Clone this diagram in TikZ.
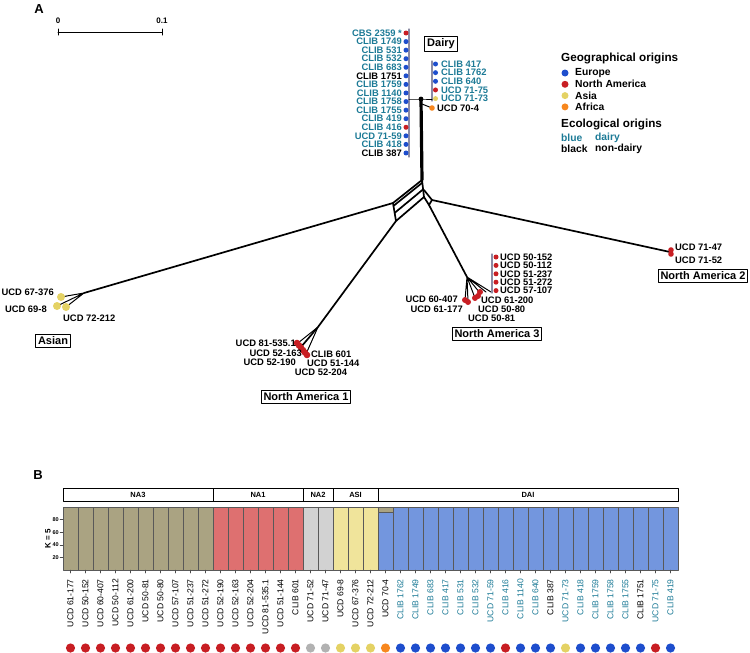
\documentclass[tikz,border=0pt]{standalone}
\usepackage{fontspec}
\setmainfont{Liberation Sans}
\usetikzlibrary{calc,positioning}
\definecolor{dairyteal}{RGB}{28,122,150}
\definecolor{dotblue}{RGB}{30,78,205}
\definecolor{dotred}{RGB}{200,30,35}
\definecolor{dotyellow}{RGB}{228,210,100}
\definecolor{dotorange}{RGB}{247,135,30}
\definecolor{dotgrey}{RGB}{178,178,178}
\definecolor{barkhaki}{RGB}{170,163,130}
\definecolor{barred}{RGB}{222,112,112}
\definecolor{bargrey}{RGB}{210,210,210}
\definecolor{baryellow}{RGB}{240,228,155}
\definecolor{barblue}{RGB}{115,150,222}
\definecolor{listgrey}{RGB}{140,140,165}

\begin{document}
\begin{tikzpicture}[x=1pt,y=-1pt,line cap=round,line join=round,
 strain/.style={font=\fontsize{9.4}{10}\selectfont\bfseries,inner sep=0pt},
 clade/.style={draw,line width=1pt,font=\fontsize{11}{12}\selectfont\bfseries,inner xsep=2.4pt,inner ysep=2.2pt},
 legendhead/.style={font=\fontsize{11.7}{12}\selectfont\bfseries,inner sep=0pt,anchor=west},
 legendtext/.style={font=\fontsize{10.3}{11}\selectfont\bfseries,inner sep=0pt,anchor=west},
 branch/.style={line width=1.7pt},
 twig/.style={line width=1pt},
 listline/.style={listgrey,line width=1.2pt},
 hdr/.style={font=\fontsize{7.5}{8}\selectfont\bfseries,inner sep=0pt},
 sample/.style={font=\fontsize{8.6}{9}\selectfont,inner sep=0pt,rotate=90,anchor=east},
 baredge/.style={black!65,line width=.6pt},
 panel/.style={font=\fontsize{13}{14}\selectfont\bfseries,inner sep=0pt}]
 \useasboundingbox (0,0) rectangle (750,653);

 % ---------- A ----------
 \node[panel] (pA) at (39,9) {A};
 \node[font=\fontsize{8}{9}\selectfont\bfseries,inner sep=0pt] (s0) at (58,21) {0};
 \node[font=\fontsize{8}{9}\selectfont\bfseries,inner sep=0pt] (s1) at (162,21) {0.1};
 \draw[line width=1pt] (58,32) -- (162,32) (58,29) -- (58,35) (162,29) -- (162,35);

 % Dairy: lista po lewej.
 \draw[listline] (409,29) -- (409,157);
 \foreach \lab/\tc/\dc [count=\i from 0] in {CBS 2359 */dairyteal/dotred,CLIB 1749/dairyteal/dotblue,
  CLIB 531/dairyteal/dotblue,CLIB 532/dairyteal/dotblue,CLIB 683/dairyteal/dotblue,CLIB 1751/black/dotblue,
  CLIB 1759/dairyteal/dotblue,CLIB 1140/dairyteal/dotblue,CLIB 1758/dairyteal/dotblue,CLIB 1755/dairyteal/dotblue,
  CLIB 419/dairyteal/dotblue,CLIB 416/dairyteal/dotred,UCD 71-59/dairyteal/dotblue,CLIB 418/dairyteal/dotblue,
  CLIB 387/black/dotblue}{
  \node[strain,anchor=east,text=\tc] (dl\i) at (402,{33+8.57*\i}) {\lab};
  \fill[\dc] (406,{33+8.57*\i}) circle (2.5);
 }
 % Dairy: lista po prawej.
 \draw[listline] (432,61) -- (432,101);
 \foreach \lab/\dc [count=\i from 0] in {CLIB 417/dotblue,CLIB 1762/dotblue,CLIB 640/dotblue,
  UCD 71-75/dotred,UCD 71-73/dotyellow}{
  \node[strain,anchor=west,text=dairyteal] (dr\i) at (441,{64+8.65*\i}) {\lab};
  \fill[\dc] (435.5,{64+8.65*\i}) circle (2.5);
 }
 \node[clade] (dairy) at (441,44) {Dairy};
 \coordinate (dj) at (421,99);
 \coordinate (afr) at (432,108);
 \draw[twig] (409,99) -- (dj) -- (432,99);
 \draw[twig] (422,104) -- (afr);
 \fill (dj) circle (2.4);
 \fill[dotorange] (afr) circle (2.8);
 \node[strain,anchor=west] (ucd704) at (437,108) {UCD 70-4};

 % Sieć: pień i romby.
 \coordinate (nt) at (422,180);
 \coordinate (nr) at (424,197);
 \coordinate (nl) at (393,203);
 \coordinate (nb) at (396,221);
 \coordinate (ne) at (424,190);
 \coordinate (ea) at (432,200);
 \coordinate (eb) at (429,205);
 \draw[line width=3.2pt] (dj) -- (nt);
 \draw[branch] (nt) -- (nl) -- (nb) -- (nr) -- cycle;
 \draw[branch] ($(nt)!.16!(nr)$) -- ($(nl)!.16!(nb)$);
 \draw[branch] ($(nt)!.55!(nr)$) -- ($(nl)!.55!(nb)$);
 \draw[branch] (ne) -- (ea) -- (eb) -- (nr);

 % Asian
 \coordinate (ahub) at (84,293);
 \coordinate (as1) at (61,297);
 \coordinate (as2) at (57,306);
 \coordinate (as3) at (66,307);
 \draw[branch] (nl) -- (ahub);
 \draw[twig] (ahub) -- (as1) (ahub) -- (as2) (ahub) -- (as3);
 \foreach \p in {as1,as2,as3} \fill[dotyellow] (\p) circle (4);
 \node[strain,anchor=east] (a1) at (54,292) {UCD 67-376};
 \node[strain,anchor=east] (a2) at (47,309) {UCD 69-8};
 \node[strain,anchor=west] (a3) at (63,318) {UCD 72-212};
 \node[clade] (asian) at (53,341) {Asian};

 % North America 1
 \coordinate (n1hub) at (318,327);
 \draw[branch] (nb) -- (n1hub) -- (301,347);
 \draw[twig] (n1hub) -- (298,343) (n1hub) -- (306,354);
 \foreach \k in {0,...,5} \fill[dotred] ({297+2*\k},{343+2.4*\k}) circle (3.3);
 \node[strain,anchor=east] (b1) at (296,343) {UCD 81-535.1};
 \node[strain,anchor=east] (b2) at (302,353) {UCD 52-163};
 \node[strain,anchor=east] (b3) at (296,362) {UCD 52-190};
 \node[strain,anchor=west] (b4) at (311,354) {CLIB 601};
 \node[strain,anchor=west] (b5) at (307,363) {UCD 51-144};
 \node[strain] (b6) at (321,372) {UCD 52-204};
 \node[clade] (na1) at (306,397) {North America 1};

 % North America 2
 \coordinate (n2) at (670,252);
 \draw[branch] (ea) -- (n2);
 \fill[dotred] (671,250) circle (2.8) (671,254) circle (2.8);
 \node[strain,anchor=west] (c1) at (675,247) {UCD 71-47};
 \node[strain,anchor=west] (c2) at (675,260) {UCD 71-52};
 \node[clade] (na2) at (703,276) {North America 2};

 % North America 3
 \coordinate (n3hub) at (467,277);
 \draw[branch] (eb) -- (n3hub);
 \draw[twig] (n3hub) -- (465,300) (n3hub) -- (468,302) (n3hub) -- (475,298)
  (n3hub) -- (480,293) (n3hub) -- (486,292) (n3hub) -- (491,292);
 \foreach \q in {(465,300),(468,302),(475,298),(478,296),(480,292)} \fill[dotred] \q circle (3);
 \draw[listline] (492,254) -- (492,293);
 \foreach \lab [count=\i from 0] in {UCD 50-152,UCD 50-112,UCD 51-237,UCD 51-272,UCD 57-107}{
  \node[strain,anchor=west] (d\i) at (500,{257+8.4*\i}) {\lab};
  \fill[dotred] (496,{257+8.4*\i}) circle (2.5);
 }
 \node[strain,anchor=east] (e1) at (458,299.5) {UCD 60-407};
 \node[strain,anchor=east] (e2) at (463,309) {UCD 61-177};
 \node[strain,anchor=west] (e3) at (481,300) {UCD 61-200};
 \node[strain,anchor=west] (e4) at (478,309) {UCD 50-80};
 \node[strain,anchor=west] (e5) at (468,318) {UCD 50-81};
 \node[clade] (na3) at (497,334) {North America 3};

 % Legenda.
 \node[legendhead] (geo) at (561,59) {Geographical origins};
 \foreach \lab/\dc [count=\i from 0] in {Europe/dotblue,North America/dotred,Asia/dotyellow,Africa/dotorange}{
  \fill[\dc] (565,{73+11.3*\i}) circle (3.5);
  \node[legendtext] (g\i) at (575,{73+11.3*\i}) {\lab};
 }
 \node[legendhead] (eco) at (561,124) {Ecological origins};
 \node[legendtext,text=dairyteal] (k1) at (561,138) {blue};
 \node[legendtext,text=dairyteal] (k2) at (595,138) {dairy};
 \node[legendtext] (k3) at (561,149) {black};
 \node[legendtext] (k4) at (595,149) {non-dairy};

 % ---------- B ----------
 \node[panel] (pB) at (38,475) {B};
 \foreach \nm/\xa/\xb in {NA3/63/213,NA1/213/303,NA2/303/333,ASI/333/378,DAI/378/678}{
  \draw[line width=1pt] (\xa,488) rectangle (\xb,501);
  \node[hdr] (h\nm) at ({(\xa+\xb)/2},494.5) {\nm};
 }
 \foreach \lab/\tc/\dc/\bc [count=\i from 0] in {
  UCD 61-177/black/dotred/barkhaki,UCD 50-152/black/dotred/barkhaki,UCD 60-407/black/dotred/barkhaki,
  UCD 50-112/black/dotred/barkhaki,UCD 61-200/black/dotred/barkhaki,UCD 50-81/black/dotred/barkhaki,
  UCD 50-80/black/dotred/barkhaki,UCD 57-107/black/dotred/barkhaki,UCD 51-237/black/dotred/barkhaki,
  UCD 51-272/black/dotred/barkhaki,
  UCD 52-190/black/dotred/barred,UCD 52-163/black/dotred/barred,UCD 52-204/black/dotred/barred,
  UCD 81-535.1/black/dotred/barred,UCD 51-144/black/dotred/barred,CLIB 601/black/dotred/barred,
  UCD 71-52/black/dotgrey/bargrey,UCD 71-47/black/dotgrey/bargrey,
  UCD 69-8/black/dotyellow/baryellow,UCD 67-376/black/dotyellow/baryellow,UCD 72-212/black/dotyellow/baryellow,
  UCD 70-4/black/dotorange/barblue,CLIB 1762/dairyteal/dotblue/barblue,CLIB 1749/dairyteal/dotblue/barblue,
  CLIB 683/dairyteal/dotblue/barblue,CLIB 417/dairyteal/dotblue/barblue,CLIB 531/dairyteal/dotblue/barblue,
  CLIB 532/dairyteal/dotblue/barblue,UCD 71-59/dairyteal/dotblue/barblue,CLIB 416/dairyteal/dotred/barblue,
  CLIB 1140/dairyteal/dotblue/barblue,CLIB 640/dairyteal/dotblue/barblue,CLIB 387/black/dotblue/barblue,
  UCD 71-73/dairyteal/dotyellow/barblue,CLIB 418/dairyteal/dotblue/barblue,CLIB 1759/dairyteal/dotblue/barblue,
  CLIB 1758/dairyteal/dotblue/barblue,CLIB 1755/dairyteal/dotblue/barblue,CLIB 1751/black/dotblue/barblue,
  UCD 71-75/dairyteal/dotred/barblue,CLIB 419/dairyteal/dotblue/barblue}{
  \fill[\bc] ({63+15*\i},507) rectangle ({78+15*\i},570);
  \draw[baredge] ({63+15*\i},507) rectangle ({78+15*\i},570);
  \draw[black!70,line width=.5pt] ({70.5+15*\i},570) -- ({70.5+15*\i},573);
  \node[sample,text=\tc] (lab\i) at ({70.5+15*\i},579) {\lab};
  \fill[\dc] ({70.5+15*\i},648) circle (4.6);
 }
 % UCD 70-4: domieszka NA3.
 \fill[barkhaki] (378,507) rectangle (393,512.5);
 \draw[baredge] (378,507) rectangle (393,512.5);
 % Oś K = 5.
 \node[font=\fontsize{8}{9}\selectfont\bfseries,rotate=90,inner sep=0pt] (kk) at (48,539) {K = 5};
 \foreach \v in {20,40,60,80}{
  \draw[black!70,line width=.5pt] (60,{570-0.63*\v}) -- (63,{570-0.63*\v});
  \node[font=\fontsize{5.5}{6}\selectfont\bfseries,anchor=east,inner sep=0pt] (y\v) at (59,{570-0.63*\v}) {\v};
 }
\end{tikzpicture}
\end{document}
